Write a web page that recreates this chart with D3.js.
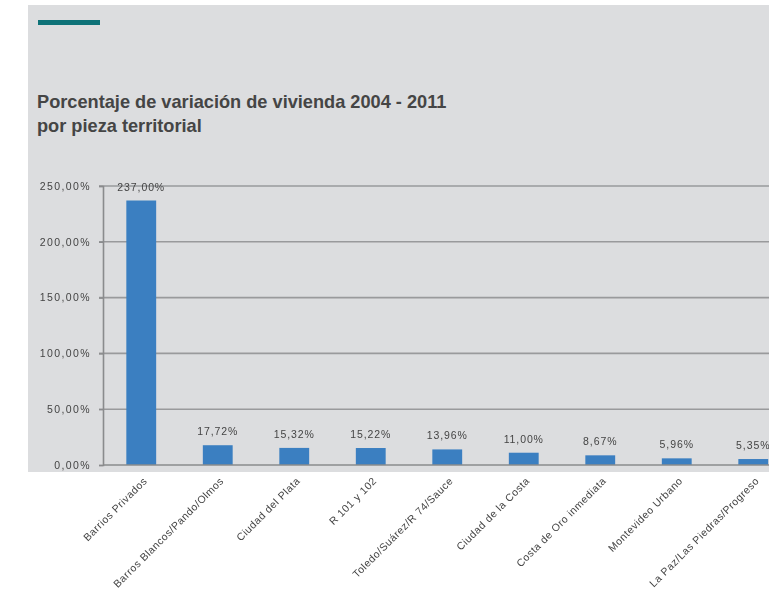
<!DOCTYPE html>
<html>
<head>
<meta charset="utf-8">
<script src="https://cdn.jsdelivr.net/npm/d3@7"></script>
<style>
  html, body { margin: 0; padding: 0; background: #ffffff; }
  svg { display: block; }
</style>
</head>
<body>
<svg id="chart" width="769" height="598"></svg>
<script>
// Housing variation 2004 - 2011 by territorial piece
const categories = [
  "Barrios Privados",
  "Barros Blancos/Pando/Olmos",
  "Ciudad del Plata",
  "R 101 y 102",
  "Toledo/Suárez/R 74/Sauce",
  "Ciudad de la Costa",
  "Costa de Oro inmediata",
  "Montevideo Urbano",
  "La Paz/Las Piedras/Progreso"
];
const values = [237.00, 17.72, 15.32, 15.22, 13.96, 11.00, 8.67, 5.96, 5.35];
const yTicks = [0, 50, 100, 150, 200, 250];

const titleLines = [
  "Porcentaje de variación de vivienda 2004 - 2011",
  "por pieza territorial"
];

const fmt = v => d3.format(".2f")(v).replace(".", ",") + "%";

const svg = d3.select("#chart");
const W = 769, H = 598;

// panel background
svg.append("rect").attr("x", 28).attr("y", 5).attr("width", W - 28).attr("height", 467)
  .attr("fill", "#dcdddf");

// accent rule
svg.append("rect").attr("x", 38).attr("y", 20).attr("width", 62).attr("height", 5)
  .attr("fill", "#0e7278");

// title
svg.append("g").selectAll("text").data(titleLines).join("text")
  .attr("x", 37)
  .attr("y", (d, i) => 108 + i * 24)
  .attr("font-family", "Liberation Sans, Arial, sans-serif")
  .attr("font-weight", "bold")
  .attr("font-size", 18.2)
  .attr("fill", "#454545")
  .text(d => d);

// chart area
const defs = svg.append("defs");
defs.append("filter").attr("id", "soft")
  .append("feGaussianBlur").attr("stdDeviation", 0.55);

const g = svg.append("g").attr("filter", "url(#soft)");

const x0 = 103, step = 76.5;
const x = d3.scaleBand()
  .domain(categories)
  .range([x0, x0 + step * categories.length])
  .paddingInner(0.61)
  .paddingOuter(0.305);

const y = d3.scaleLinear().domain([0, 250]).range([465, 186]);

// gridlines
g.append("g").selectAll("line").data(yTicks.filter(t => t > 0)).join("line")
  .attr("x1", x0 - 4).attr("x2", W)
  .attr("y1", d => y(d)).attr("y2", d => y(d))
  .attr("stroke", "#999a9c").attr("stroke-width", 1.6);

// y axis
const yAxis = d3.axisLeft(y).tickValues(yTicks).tickSize(4).tickFormat(fmt);
const ya = g.append("g").attr("transform", `translate(${x0},0)`).call(yAxis);
ya.select(".domain").attr("stroke", "#8a8b8d").attr("stroke-width", 1.6);
ya.selectAll(".tick line").attr("stroke", "#8a8b8d").attr("stroke-width", 1.4);
ya.selectAll(".tick text")
  .attr("x", -12)
  .attr("font-family", "Liberation Sans, Arial, sans-serif")
  .attr("font-size", 10.5)
  .attr("letter-spacing", 1.4)
  .attr("fill", "#444");

// bars
g.append("g").selectAll("rect").data(values).join("rect")
  .attr("x", (d, i) => x(categories[i]))
  .attr("width", x.bandwidth())
  .attr("y", d => y(d))
  .attr("height", d => y(0) - y(d))
  .attr("fill", "#3b7fc1");

// x axis
g.append("line")
  .attr("x1", x0).attr("x2", W).attr("y1", y(0)).attr("y2", y(0))
  .attr("stroke", "#8a8b8d").attr("stroke-width", 1.6);

// value labels
g.append("g").selectAll("text").data(values).join("text")
  .attr("x", (d, i) => x(categories[i]) + x.bandwidth() / 2)
  .attr("y", d => y(d) - 10)
  .attr("text-anchor", "middle")
  .attr("font-family", "Liberation Sans, Arial, sans-serif")
  .attr("font-size", 10.5)
  .attr("letter-spacing", 0.9)
  .attr("fill", "#444")
  .text(fmt);

// category labels
g.append("g").selectAll("text").data(categories).join("text")
  .attr("transform", d => `translate(${x(d) + x.bandwidth() / 2 + 4},${479}) rotate(-45)`)
  .attr("text-anchor", "end")
  .attr("dy", "0.35em")
  .attr("font-family", "Liberation Sans, Arial, sans-serif")
  .attr("font-size", 10.5)
  .attr("letter-spacing", 0.5)
  .attr("fill", "#444")
  .text(d => d);
</script>
</body>
</html>
